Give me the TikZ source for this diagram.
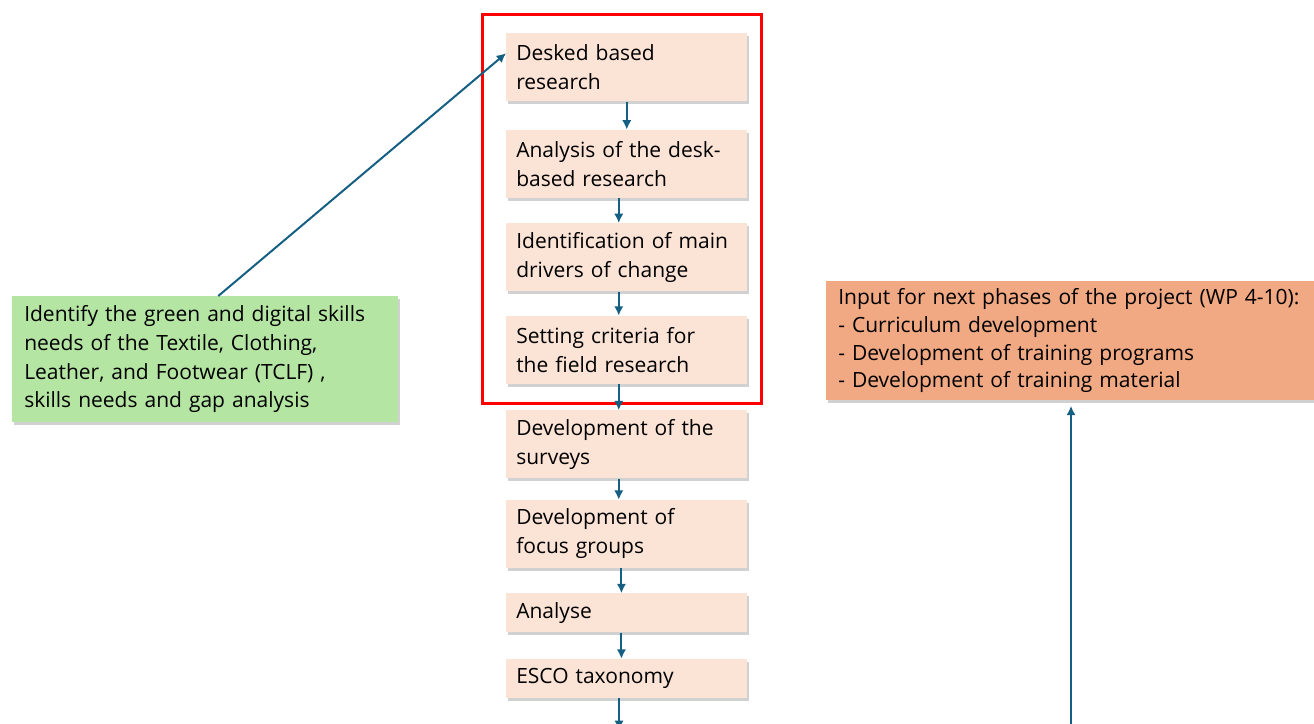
\documentclass[tikz,border=0pt]{standalone}
\usepackage{fontspec}
\setmainfont{Open Sans}
\usetikzlibrary{arrows.meta, positioning, shadows}
\definecolor{stepfill}{HTML}{FBE3D6}
\definecolor{goalgreen}{HTML}{B4E5A2}
\definecolor{inputorange}{HTML}{F1A983}
\definecolor{flowblue}{HTML}{156082}
\definecolor{framered}{HTML}{FF0000}

\begin{document}
\begin{tikzpicture}[
      x=0.75pt, y=-0.75pt,
      boxshadow/.style={drop shadow={shadow xshift=1.5pt, shadow yshift=-2.25pt,
        fill=black, opacity=0.18}},
      stepbox/.style={fill=stepfill, boxshadow, minimum width=180.75pt,
        minimum height=51pt, text width=165.75pt, inner xsep=7.5pt,
        align=left, font=\fontsize{15.75pt}{21.75pt}\selectfont},
      shortbox/.style={stepbox, minimum height=29.25pt},
      goalbox/.style={fill=goalgreen, boxshadow, minimum width=289.5pt,
        minimum height=94.5pt, text width=271.5pt, inner xsep=9pt,
        align=left, font=\fontsize{15.75pt}{21.5pt}\selectfont},
      inputbox/.style={fill=inputorange, boxshadow, minimum width=378pt,
        minimum height=89.25pt, text width=360pt, inner xsep=9pt,
        align=left, font=\fontsize{15.75pt}{20.75pt}\selectfont},
      flow/.style={->, draw=flowblue, line width=1.5pt},
      >={Latex[length=7pt, width=7pt]}
    ]
      \clip (0,0) rectangle (1314,724);

      % research steps
      \node[stepbox, anchor=north west] (desk) at (506,33)
        {Desked based\\research};
      \node[stepbox, below=21pt of desk] (ana)
        {Analysis of the desk-\\based research};
      \node[stepbox, below=18.75pt of ana] (drive)
        {Identification of main\\drivers of change};
      \node[stepbox, below=18pt of drive] (crit)
        {Setting criteria for\\the field research};
      \node[stepbox, below=19.5pt of crit] (survey)
        {Development of the\\surveys};
      \node[stepbox, below=15.75pt of survey] (focus)
        {Development of\\focus groups};
      \node[shortbox, below=18.75pt of focus] (analyse) {Analyse};
      \node[shortbox, below=19.5pt of analyse] (esco) {ESCO taxonomy};

      % aim and output
      \node[goalbox, anchor=north west] (skills) at (12,296)
        {Identify the green and digital skills\\needs of the Textile, Clothing,\\Leather, and Footwear (TCLF) ,\\skills needs and gap analysis};
      \node[inputbox, anchor=north west] (input) at (826,281)
        {Input for next phases of the project (WP 4-10):\\- Curriculum development\\- Development of training programs\\- Development of training material};

      % desk research phase
      \draw[framered, line width=2.25pt]
        ([shift={(-24,-18)}]desk.north west) rectangle ([shift={(14,19)}]crit.south east);

      \coordinate (escoout) at (619,730);
      \coordinate (feed) at (1071,730);

      \draw[flow] (desk) -- (ana);
      \draw[flow] ([xshift=-6pt]ana.south) -- ([xshift=-6pt]drive.north);
      \draw[flow] ([xshift=-6pt]drive.south) -- ([xshift=-6pt]crit.north);
      \draw[flow] ([xshift=-6pt]crit.south) -- ([xshift=-6pt]survey.north);
      \draw[flow] ([xshift=-6pt]survey.south) -- ([xshift=-6pt]focus.north);
      \draw[flow] ([xshift=-4pt]focus.south) -- ([xshift=-4pt]analyse.north);
      \draw[flow] ([xshift=-4pt]analyse.south) -- ([xshift=-4pt]esco.north);
      \draw[flow] (esco.south -| escoout) -- (escoout);
      \draw[flow] ([xshift=9.75pt]skills.north) -- ([yshift=10.5pt]desk.west);
      \draw[flow] (feed) -- ([yshift=-4pt]input.south -| feed);
    \end{tikzpicture}
\end{document}
